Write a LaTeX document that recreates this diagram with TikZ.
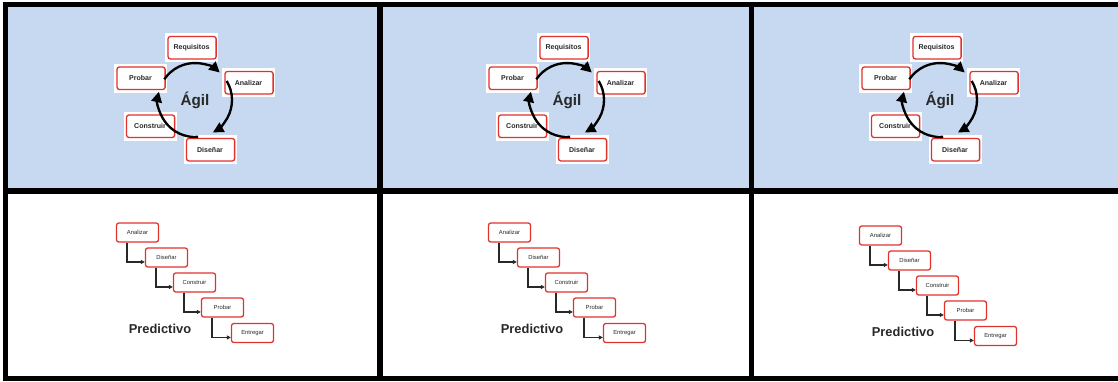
\documentclass[tikz,border=0pt]{standalone}
\usepackage{fontspec}
\setmainfont{Liberation Sans}
\usetikzlibrary{arrows.meta}
\definecolor{cellblue}{RGB}{198,217,240}
\definecolor{cardred}{RGB}{224,50,44}
\definecolor{ink}{RGB}{40,40,40}

\tikzset{
  card/.style={rectangle, fill=white, minimum width=1.59cm, minimum height=0.87cm, inner sep=0pt,
    font=\fontsize{6}{7}\selectfont\bfseries, text=ink,
    path picture={\draw[cardred, line width=1.1pt, rounded corners=2pt]
      ([xshift=2.6pt,yshift=-3pt]path picture bounding box.north west) rectangle
      ([xshift=-1.6pt,yshift=2.6pt]path picture bounding box.south east);}},
  stepbox/.style={rectangle, draw=cardred, line width=1.1pt, rounded corners=2pt,
    minimum width=1.26cm, minimum height=0.57cm, inner sep=0pt,
    font=\fontsize{5}{6}\selectfont, text=ink},
  turn/.style={line width=2pt, -{Triangle[length=9pt,width=9pt]}},
  drop/.style={line width=1.1pt, ink, -{Triangle[length=3.5pt,width=3.5pt]}},
  divider/.style={line width=4.7pt}
}

\begin{document}
\begin{tikzpicture}[x=0.03cm, y=-0.03cm]
  \useasboundingbox (0,0) rectangle (1118,381);
  \fill[cellblue] (5,4) rectangle (1118,191);

  % grid lines
  \draw[divider] (5.5,381) -- (5.5,4.5) -- (1118,4.5);
  \draw[divider] (3,191) -- (1118,191);
  \draw[divider] (3,378.5) -- (1118,378.5);
  \draw[divider] (380,2) -- (380,381);
  \draw[divider] (751.5,2) -- (751.5,381);

  % agile cycle, top row
  \foreach \i/\dx in {1/0, 2/372, 3/745} {
    \begin{scope}[shift={(\dx,0)}]
      \coordinate (c\i) at (195,100);
      \node[card] (req\i) at (191.5,47.5) {Requisitos};
      \node[card] (ana\i) at (248.5,82.5) {Analizar};
      \node[card] (pro\i) at (140.5,78) {Probar};
      \node[card] (con\i) at (150,126) {Construir};
      \node[card] (dis\i) at (210,149.5) {Diseñar};
      \node[font=\fontsize{13}{15}\selectfont\bfseries, text=ink] (agil\i) at (c\i) {Ágil};
      \draw[turn] ([shift={(146:1.11cm)}]c\i) arc[start angle=146, end angle=48, radius=1.11cm];
      \draw[turn] ([shift={(31:1.11cm)}]c\i) arc[start angle=31, end angle=-61, radius=1.11cm];
      \draw[turn] ([shift={(-85:1.11cm)}]c\i) arc[start angle=-85, end angle=-193, radius=1.11cm];
    \end{scope}
  }

  % predictive steps, bottom row
  \foreach \i/\dx/\dy in {1/0/0, 2/372/0, 3/743/3} {
    \begin{scope}[shift={(\dx,\dy)}]
      \node[stepbox] (s1\i) at (137.5,232.5) {Analizar};
      \node[stepbox] (s2\i) at (166.5,257.5) {Diseñar};
      \node[stepbox] (s3\i) at (194.5,282.5) {Construir};
      \node[stepbox] (s4\i) at (222.5,307.5) {Probar};
      \node[stepbox] (s5\i) at (252.5,333) {Entregar};
      \node[font=\fontsize{11}{13}\selectfont\bfseries, text=ink] (pred\i) at (160,329) {Predictivo};
      \foreach \a/\b in {1/2, 2/3, 3/4, 4/5}
        \draw[drop] ([xshift=9.4pt]s\a\i.south west) |- ([yshift=-3.8pt]s\b\i.west);
    \end{scope}
  }
\end{tikzpicture}
\end{document}
